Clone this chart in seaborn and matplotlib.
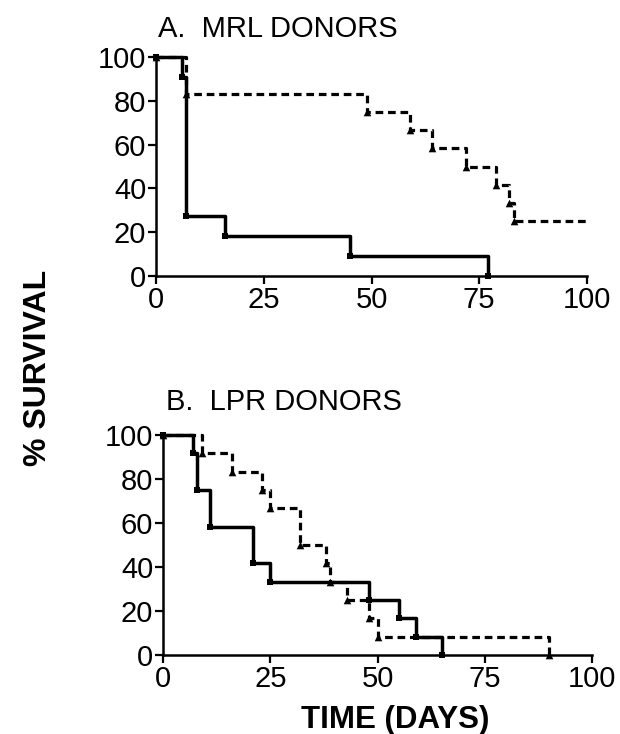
import matplotlib
matplotlib.use("Agg")
import matplotlib.pyplot as plt
import seaborn as sns
import pandas as pd

# ---- data ----
a_solid_days = [0, 6, 7, 16, 45, 77]
a_solid_surv = [100, 90.9, 27.3, 18.2, 9.1, 0]
a_dash_days = [0, 7, 49, 59, 64, 72, 79, 82, 83, 100]
a_dash_surv = [100, 83.3, 75, 66.7, 58.3, 50, 41.7, 33.3, 25, 25]

b_solid_days = [0, 7, 8, 11, 21, 25, 48, 55, 59, 65]
b_solid_surv = [100, 91.7, 75, 58.3, 41.7, 33.3, 25, 16.7, 8.3, 0]
b_dash_days = [0, 9, 16, 23, 25, 32, 38, 39, 43, 48, 50, 90]
b_dash_surv = [100, 91.7, 83.3, 75, 66.7, 50, 41.7, 33.3, 25, 16.7, 8.3, 0]

x_ticks = [0, 25, 50, 75, 100]
y_ticks = [0, 20, 40, 60, 80, 100]
titles = ["A.  MRL DONORS", "B.  LPR DONORS"]

sns.set_style("white")
plt.rcParams["font.family"] = ["Liberation Sans", "DejaVu Sans"]
plt.rcParams["text.color"] = "black"

fig = plt.figure(figsize=(6.2, 7.34), dpi=100)
axA = fig.add_axes([156/620, 1-276/734, 431/620, 219/734])
axB = fig.add_axes([163/620, 1-655/734, 429/620, 220/734])


def draw(ax, sd, ss, dd, ds, end_marker_dash=True):
    df_s = pd.DataFrame({"day": sd, "surv": ss})
    df_d = pd.DataFrame({"day": dd, "surv": ds})
    sns.lineplot(data=df_s, x="day", y="surv", ax=ax, estimator=None, sort=False,
                 drawstyle="steps-post", color="black", lw=2.5, clip_on=False)
    sns.lineplot(data=df_d, x="day", y="surv", ax=ax, estimator=None, sort=False,
                 drawstyle="steps-post", color="black", lw=2.3, clip_on=False,
                 dashes=False, linestyle=(0, (2.4, 1.5)))
    sns.scatterplot(data=df_s, x="day", y="surv", ax=ax, marker="s", s=22,
                    color="black", edgecolor="black", linewidth=0, clip_on=False, zorder=5)
    md = df_d if end_marker_dash else df_d.iloc[:-1]
    sns.scatterplot(data=md, x="day", y="surv", ax=ax, marker="^", s=30,
                    color="black", edgecolor="black", linewidth=0, clip_on=False, zorder=5)
    ax.set_xlim(0, 100)
    ax.set_ylim(0, 100)
    ax.set_xticks(x_ticks)
    ax.set_yticks(y_ticks)
    ax.tick_params(axis="both", which="major", labelsize=21, length=6, width=1.6,
                   direction="out", pad=1, color="black", labelcolor="black")
    ax.tick_params(axis="both", bottom=True, left=True)
    for side in ["top", "right"]:
        ax.spines[side].set_visible(False)
    for side in ["left", "bottom"]:
        ax.spines[side].set_linewidth(1.8)
        ax.spines[side].set_color("black")
    ax.set_xlabel("")
    ax.set_ylabel("")


draw(axA, a_solid_days, a_solid_surv, a_dash_days, a_dash_surv, end_marker_dash=False)
draw(axB, b_solid_days, b_solid_surv, b_dash_days, b_dash_surv)

fig.text(158/620, 1-37/734, titles[0], fontsize=21, ha="left", va="baseline", color="black")
fig.text(166/620, 1-410/734, titles[1], fontsize=21, ha="left", va="baseline", color="black")

fig.text(38/620, 1-368/734, "% SURVIVAL", rotation=90, fontsize=23, fontweight="bold",
         ha="center", va="center", color="black")
fig.text(395/620, 1-720/734, "TIME (DAYS)", fontsize=22.5, fontweight="bold",
         ha="center", va="center", color="black")

fig.savefig("out.png", dpi=100)
